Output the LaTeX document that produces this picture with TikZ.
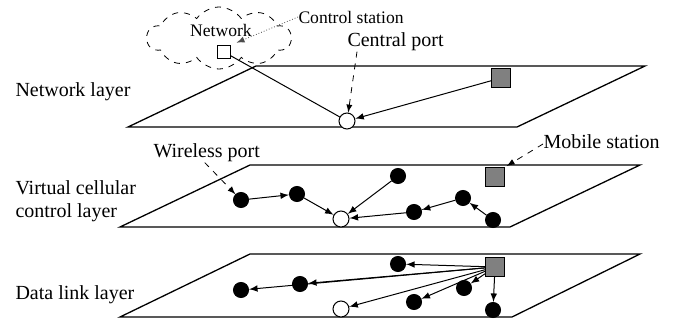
\documentclass[tikz,border=0pt]{standalone}
\usepackage{fontspec}
\setmainfont{Liberation Serif}
\usetikzlibrary{shapes.symbols}

\tikzstyle{tag} = [font=\fontsize{10}{11}\selectfont,inner sep=0pt,anchor=west]
\tikzstyle{smalltag} = [font=\fontsize{8.8}{10}\selectfont,inner sep=0pt]
\tikzstyle{port} = [circle,draw,fill=black,inner sep=0pt,minimum size=7.5pt]
\tikzstyle{cport} = [circle,draw,fill=white,inner sep=0pt,minimum size=8pt]
\tikzstyle{mobile} = [rectangle,draw,fill=black!50,inner sep=0pt,minimum size=9.5pt]
\tikzstyle{pointer} = [->,>=latex,dashed,line width=0.4pt]

\begin{document}
\begin{tikzpicture}[x=0.5pt,y=-0.5pt,line width=0.5pt]
	\useasboundingbox (0,0) rectangle (673,320);

	% the three layers
	\draw[line width=0.65pt] (128,127) -- (517,127) -- (645,66) -- (256,66) -- cycle;
	\draw[line width=0.65pt] (120,227) -- (510,227) -- (640,165) -- (250,165) -- cycle;
	\draw[line width=0.65pt] (120,317) -- (512,317) -- (640,254) -- (250,254) -- cycle;

	\node[tag] (l1) at (15,92) {Network layer};
	\node[tag,align=left] (l2) at (15,201) {Virtual cellular\\[0.6pt]control layer};
	\node[tag] (l3) at (15,295) {Data link layer};

	% network layer
	\node[cloud,draw,dashed,line width=0.4pt,cloud puffs=10,cloud puff arc=110,
		cloud ignores aspect,minimum width=72pt,minimum height=31pt,inner sep=0pt] (cloud) at (219,38) {};
	\node[smalltag] (net) at (221,30) {Network};
	\node[rectangle,draw,fill=white,inner sep=0pt,minimum size=6.5pt] (cs) at (224,52) {};
	\node[smalltag,anchor=west] (cslabel) at (298,17) {Control station};
	\node[cport] (cp1) at (347,121) {};
	\node[mobile] (ms1) at (501,78) {};
	\node[tag] (cplabel) at (347,42) {Central port};

	\draw[->,>=latex,densely dotted,black!70,line width=0.4pt,shorten >=3pt]
		(cslabel.west) -- (cs.north east);
	\draw (cs) -- (cp1);
	\draw[->,>=latex] (ms1) -- (cp1);
	\draw[pointer] ([xshift=5pt]cplabel.south west) -- (cp1);

	% virtual cellular control layer
	\node[port] (v1) at (241,200) {};
	\node[port] (v2) at (297,194) {};
	\node[cport] (cp2) at (341,219) {};
	\node[port] (v3) at (398,176) {};
	\node[port] (v4) at (414,212) {};
	\node[port] (v5) at (463,198) {};
	\node[port] (v6) at (493,220) {};
	\node[mobile] (ms2) at (495,177) {};
	\node[tag] (wplabel) at (153,153) {Wireless port};
	\node[tag] (mslabel) at (543,142) {Mobile station};

	\draw[->,>=latex] (v1) -- (v2);
	\draw[->,>=latex] (v2) -- (cp2);
	\draw[->,>=latex] (v3) -- (cp2);
	\draw[->,>=latex] (v4) -- (cp2);
	\draw[->,>=latex] (v5) -- (v4);
	\draw[->,>=latex] (v6) -- (v5);
	\draw[pointer] ([xshift=-1pt]wplabel.south) -- (v1);
	\draw[pointer,shorten >=1pt] ([yshift=-1pt]mslabel.west) -- (ms2.north east);

	% data link layer
	\node[port] (d1) at (241,290) {};
	\node[port] (d2) at (300,284) {};
	\node[port] (d3) at (398,264) {};
	\node[cport] (cp3) at (341,309) {};
	\node[port] (d4) at (414,302) {};
	\node[port] (d5) at (464,288) {};
	\node[port] (d6) at (493,310) {};
	\node[mobile] (ms3) at (495,267) {};

	\draw[->,>=latex] (ms3) -- (d3);
	\draw[->,>=latex] (ms3) -- (d2);
	\draw[->,>=latex] (ms3) -- (d1);
	\draw[->,>=latex] (ms3) -- (cp3);
	\draw[->,>=latex] (ms3) -- (d4);
	\draw[->,>=latex] (ms3) -- (d5);
	\draw[->,>=latex] (ms3) -- (d6);
\end{tikzpicture}
\end{document}
